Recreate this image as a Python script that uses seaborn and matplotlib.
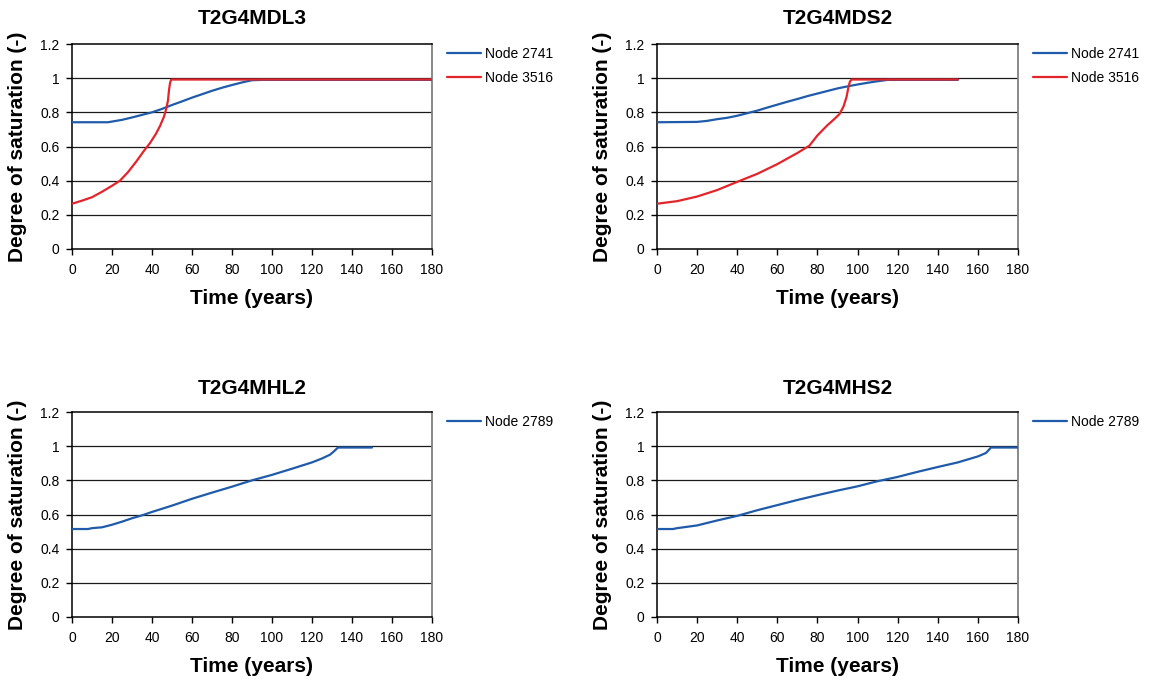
import numpy as np
import pandas as pd
import matplotlib
matplotlib.use("Agg")
import matplotlib.pyplot as plt
import seaborn as sns

sns.set_style("white")
plt.rcParams['font.family'] = ['Liberation Sans', 'DejaVu Sans']
plt.rcParams['text.color'] = 'black'
plt.rcParams['axes.labelcolor'] = 'black'
plt.rcParams['xtick.color'] = 'black'
plt.rcParams['ytick.color'] = 'black'

# ---------------- data ----------------
titles = ["T2G4MDL3", "T2G4MDS2", "T2G4MHL2", "T2G4MHS2"]

mdl3_t_2741 = [0, 10, 18, 20, 25, 30, 35, 40, 45, 50, 55, 60, 65, 70, 75, 80, 85, 90, 95, 180]
mdl3_s_2741 = [0.742, 0.742, 0.742, 0.746, 0.756, 0.77, 0.785, 0.80, 0.82, 0.843, 0.864, 0.886,
               0.906, 0.926, 0.944, 0.96, 0.975, 0.988, 0.99, 0.99]
mdl3_t_3516 = [0, 5, 10, 15, 20, 24, 28, 32, 36, 39, 42, 44, 46, 47, 48, 48.5, 49, 49.5, 50, 180]
mdl3_s_3516 = [0.265, 0.283, 0.303, 0.335, 0.37, 0.40, 0.45, 0.51, 0.575, 0.62, 0.675, 0.72,
               0.775, 0.815, 0.87, 0.93, 0.97, 0.99, 0.992, 0.992]

mds2_t_2741 = [0, 20, 25, 30, 35, 40, 45, 50, 55, 60, 65, 70, 75, 80, 85, 90, 95, 100, 105, 110, 115, 150]
mds2_s_2741 = [0.742, 0.744, 0.75, 0.76, 0.768, 0.78, 0.795, 0.81, 0.828, 0.845, 0.862, 0.878,
               0.895, 0.91, 0.925, 0.94, 0.952, 0.963, 0.973, 0.982, 0.99, 0.99]
mds2_t_3516 = [0, 10, 20, 30, 40, 50, 60, 70, 76, 80, 85, 88, 91, 93, 94.5, 95.5, 96.2, 97, 150]
mds2_s_3516 = [0.265, 0.28, 0.307, 0.345, 0.393, 0.44, 0.497, 0.562, 0.605, 0.665, 0.725, 0.756,
               0.79, 0.834, 0.89, 0.95, 0.98, 0.992, 0.992]

mhl2_t_2789 = [0, 8, 10, 15, 20, 25, 30, 35, 40, 50, 60, 70, 80, 90, 100, 110, 120, 125, 129, 131, 133, 150]
mhl2_s_2789 = [0.515, 0.515, 0.52, 0.525, 0.54, 0.558, 0.578, 0.595, 0.615, 0.652, 0.692, 0.728,
               0.763, 0.80, 0.832, 0.868, 0.905, 0.928, 0.95, 0.97, 0.992, 0.992]

mhs2_t_2789 = [0, 8, 10, 20, 30, 40, 50, 60, 70, 80, 90, 100, 110, 120, 130, 140, 150, 160, 164,
               165, 166.5, 168, 180]
mhs2_s_2789 = [0.515, 0.515, 0.52, 0.536, 0.565, 0.592, 0.625, 0.655, 0.685, 0.713, 0.74, 0.765,
               0.795, 0.82, 0.85, 0.878, 0.905, 0.94, 0.96, 0.972, 0.992, 0.992, 0.992]

x_ticks = [0, 20, 40, 60, 80, 100, 120, 140, 160, 180]
y_ticks = [0, 0.2, 0.4, 0.6, 0.8, 1.0, 1.2]
y_ticklabels = ["0", "0.2", "0.4", "0.6", "0.8", "1", "1.2"]

blue = "#1F5BAA"
red = "#E3242B"

panels = [
    [("Node 2741", mdl3_t_2741, mdl3_s_2741), ("Node 3516", mdl3_t_3516, mdl3_s_3516)],
    [("Node 2741", mds2_t_2741, mds2_s_2741), ("Node 3516", mds2_t_3516, mds2_s_3516)],
    [("Node 2789", mhl2_t_2789, mhl2_s_2789)],
    [("Node 2789", mhs2_t_2789, mhs2_s_2789)],
]

W, H = 1152, 684
fig = plt.figure(figsize=(W / 100, H / 100), dpi=100)

# axes boxes in pixels: (left, top, right, bottom)
boxes = [(72, 44, 432, 249), (657, 44, 1018, 249),
         (72, 412, 432, 617), (657, 412, 1018, 617)]
ylabel_x = [18, 603, 18, 603]

for i, (title, series, box) in enumerate(zip(titles, panels, boxes)):
    l, t, r, b = box
    ax = fig.add_axes([l / W, 1 - b / H, (r - l) / W, (b - t) / H])
    frames = []
    for name, tt, ss in series:
        frames.append(pd.DataFrame({"Time": tt, "Saturation": ss, "Node": name}))
    df = pd.concat(frames, ignore_index=True)
    names = [s[0] for s in series]
    pal = {n: c for n, c in zip(names, [blue, red])}
    sns.lineplot(data=df, x="Time", y="Saturation", hue="Node", palette=pal,
                 estimator=None, sort=False, linewidth=1.6, ax=ax, legend=True, zorder=3)

    ax.set_xlim(0, 180)
    ax.set_ylim(0, 1.2)
    ax.set_xticks(x_ticks)
    ax.set_xticklabels([str(v) for v in x_ticks])
    ax.set_yticks(y_ticks)
    ax.set_yticklabels(y_ticklabels)
    for yv in y_ticks[1:-1]:
        ax.axhline(yv, color="#1a1a1a", linewidth=0.9, zorder=1)
    ax.tick_params(axis="both", which="major", direction="out", length=4, width=1,
                   color="black", labelsize=10, labelcolor="black", pad=5,
                   bottom=True, left=True)
    ax.tick_params(axis="x", pad=6)
    for side in ["left", "bottom", "top"]:
        ax.spines[side].set_color("black")
        ax.spines[side].set_linewidth(1.1)
    ax.spines["right"].set_color("#808080")
    ax.spines["right"].set_linewidth(1.3)

    ax.set_xlabel("Time (years)", fontsize=15, fontweight="bold", va="center", color="black")
    ax.xaxis.set_label_coords(0.5, -49 / (b - t))
    ax.set_ylabel("Degree of saturation (-)", fontsize=15, fontweight="bold", va="center",
                  color="black")
    ax.yaxis.set_label_coords((ylabel_x[i] - l) / (r - l), 0.5)
    ttl_y = 18 if i < 2 else 388
    ax.text(0.5, 1 + (t - ttl_y) / (b - t), title, transform=ax.transAxes,
            ha="center", va="center", fontsize=15, fontweight="bold", color="black")

    h, lab = ax.get_legend_handles_labels()
    leg = ax.legend(h, lab, loc="upper left", bbox_to_anchor=(1.042, 0.985), frameon=False,
                    fontsize=10, handlelength=2.45, handletextpad=0.3, borderpad=0,
                    borderaxespad=0, labelspacing=0.7)
    for txt in leg.get_texts():
        txt.set_color("black")

fig.savefig("out.png", dpi=100)
